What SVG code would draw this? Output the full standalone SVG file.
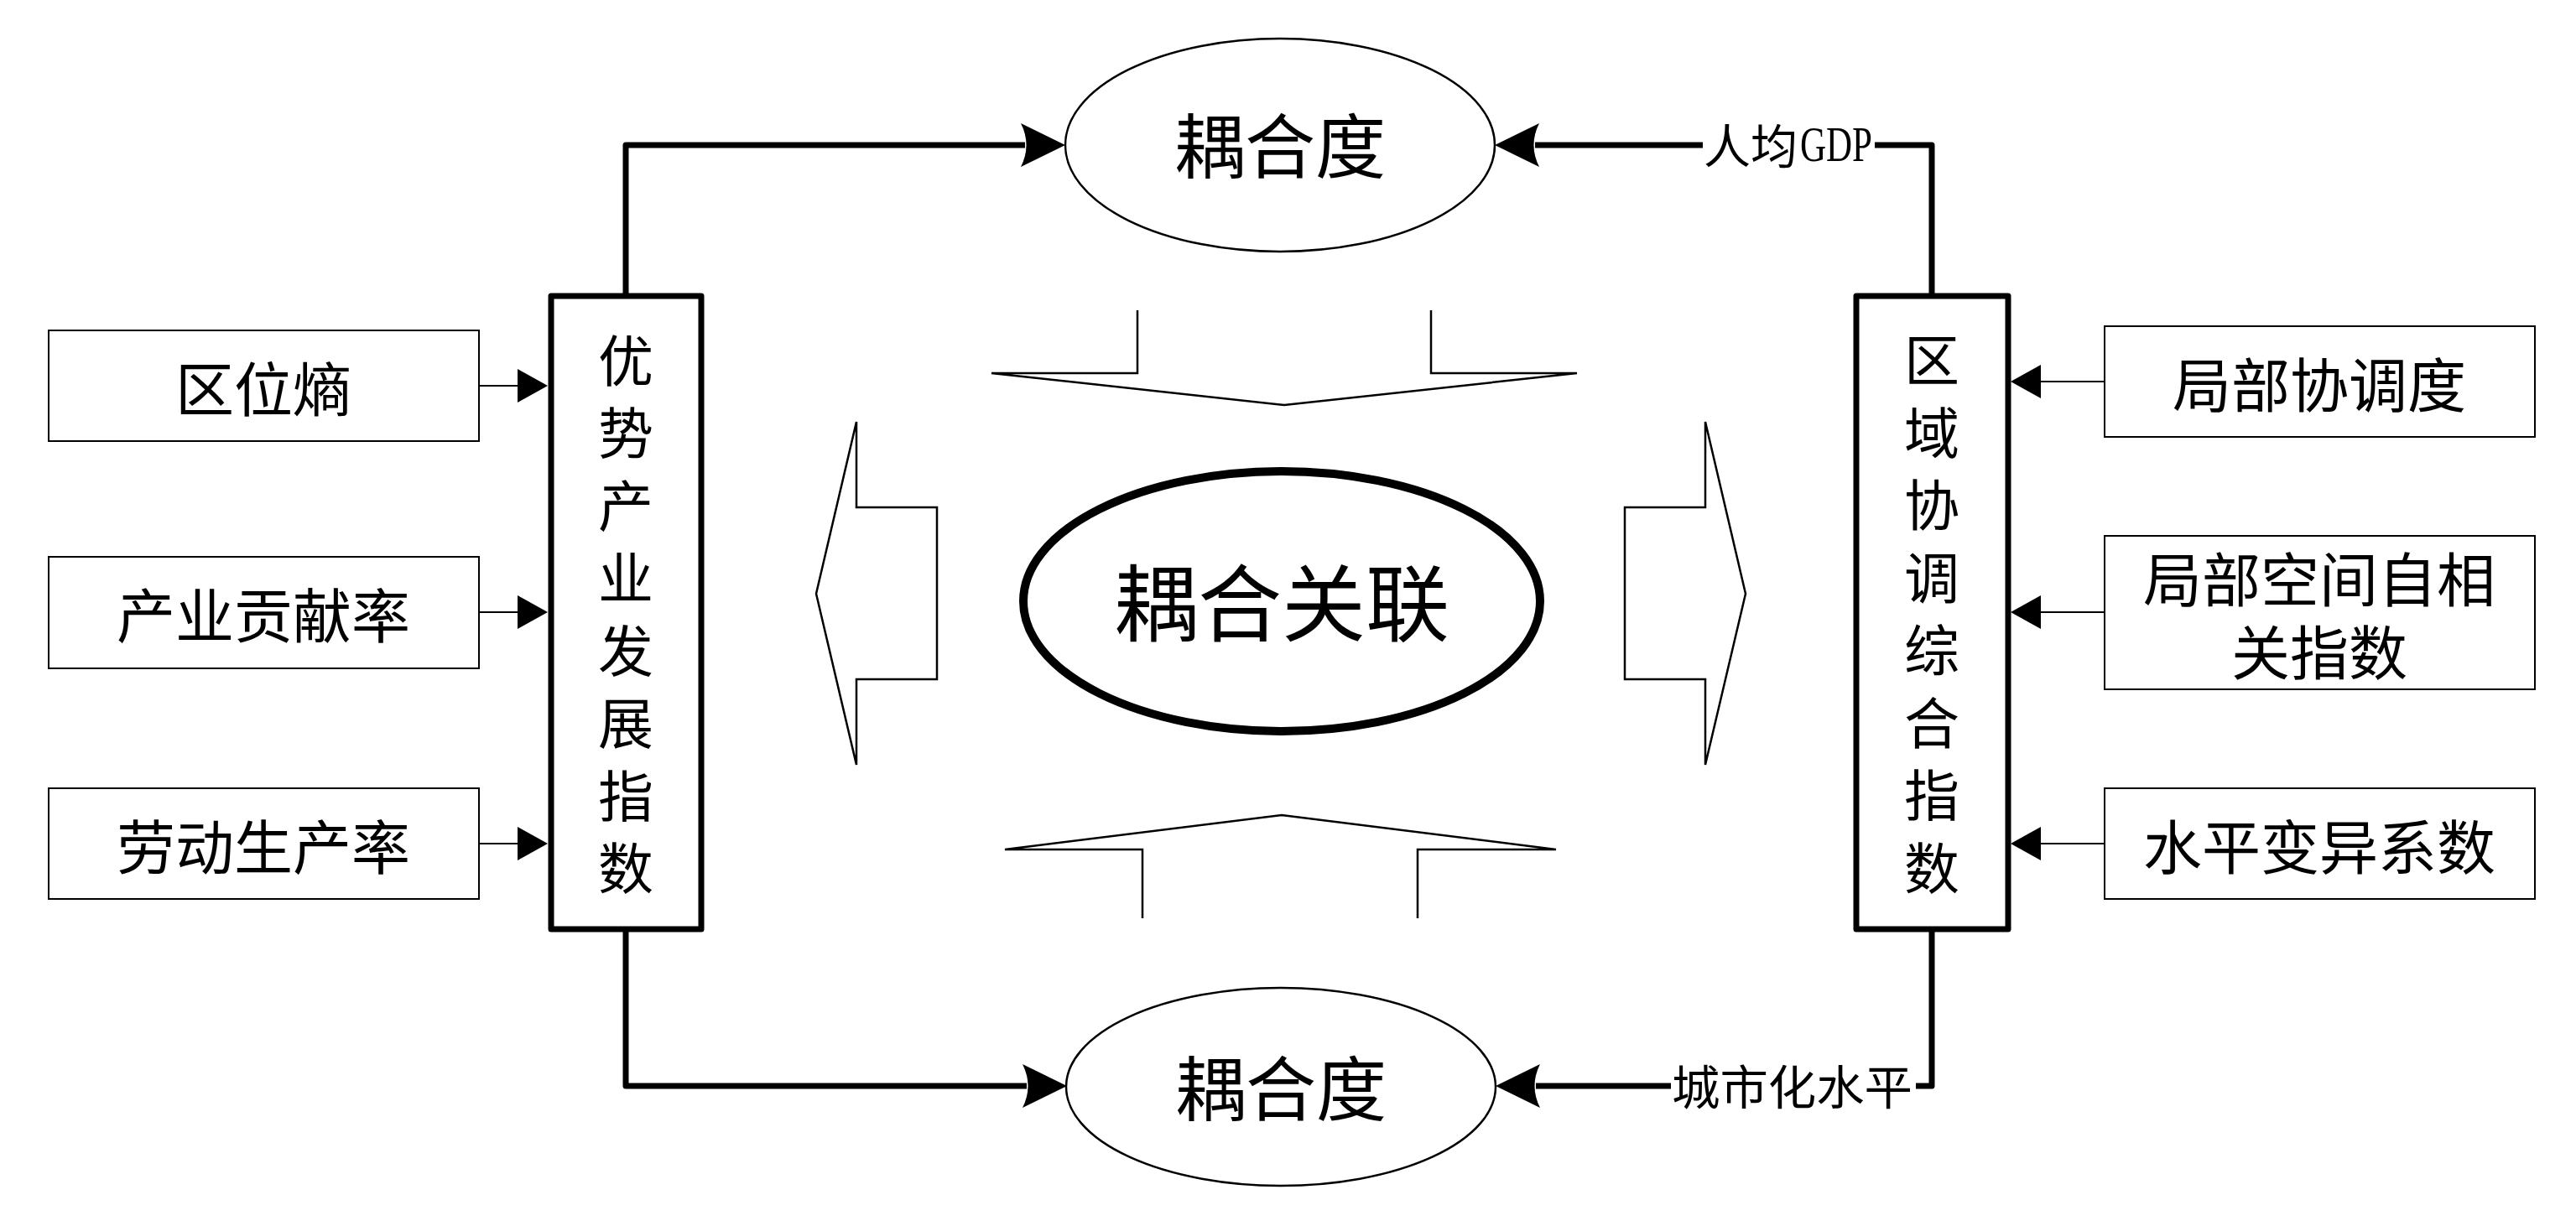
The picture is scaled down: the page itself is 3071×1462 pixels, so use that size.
<svg xmlns="http://www.w3.org/2000/svg" width="3071" height="1462" viewBox="0 0 3071 1462">
<style>
text{font-family:"Noto Sans CJK SC","Noto Sans",sans-serif;fill:#000;dominant-baseline:central;text-anchor:middle}
.box{fill:#fff;stroke:#000;stroke-width:2}
.main{fill:#fff;stroke:#000;stroke-width:7;stroke-linejoin:round}
.ell{fill:#fff;stroke:#000;stroke-width:2.5}
.thick{fill:none;stroke:#000;stroke-width:7;stroke-linejoin:round}
.thin{fill:none;stroke:#000;stroke-width:2}
.blk{fill:#fff;stroke:#000;stroke-width:2.5;stroke-linejoin:miter}
.in{font-size:70px}
.vt{font-size:66px}
.lab{font-size:56px;text-anchor:start}
</style>
<defs>
<marker id="big" markerUnits="userSpaceOnUse" viewBox="0 0 54 54" markerWidth="54" markerHeight="54" refX="6" refY="27" orient="auto">
<path d="M54,27 L1,1 Q14,27 1,53 Z" fill="#000"/>
</marker>
<marker id="small" markerUnits="userSpaceOnUse" viewBox="0 0 36 40" markerWidth="36" markerHeight="40" refX="0" refY="20" orient="auto">
<path d="M0,0 L36,20 L0,40 Z" fill="#000"/>
</marker>
</defs>
<rect width="3071" height="1462" fill="#fff"/>

<g id="connectors">
<path class="thick" d="M746,350 V173 H1222" marker-end="url(#big)"/>
<path class="thick" d="M2303,350 V173 H2235"/>
<path class="thick" d="M2030,173 H1830" marker-end="url(#big)"/>
<path class="thick" d="M746,1111 V1295 H1224" marker-end="url(#big)"/>
<path class="thick" d="M2303,1111 V1295 H2284"/>
<path class="thick" d="M1992,1295 H1831" marker-end="url(#big)"/>
<path class="thin" d="M571,460 H617" marker-end="url(#small)"/>
<path class="thin" d="M571,730 H617" marker-end="url(#small)"/>
<path class="thin" d="M571,1006 H617" marker-end="url(#small)"/>
<path class="thin" d="M2509,455 H2433" marker-end="url(#small)"/>
<path class="thin" d="M2509,730 H2433" marker-end="url(#small)"/>
<path class="thin" d="M2509,1006 H2433" marker-end="url(#small)"/>
<text class="lab" x="2031" y="170">人均</text>
<text x="2146" y="192" style="font-family:'Liberation Serif',serif;font-size:60px;text-anchor:start;dominant-baseline:alphabetic" textLength="86" lengthAdjust="spacingAndGlyphs">GDP</text>
<text class="lab" x="1993" y="1292" textLength="287" lengthAdjust="spacingAndGlyphs">城市化水平</text>
</g>

<g id="block-arrows">
<polyline class="blk" points="1356,370 1356,445 1182,445 1531,483 1880,445 1706,445 1706,370"/>
<polyline class="blk" points="1362,1095 1362,1013 1198,1013 1528,972 1855,1013 1690,1013 1690,1095"/>
<polygon class="blk" points="1117,605 1021,605 1021,503 973,708 1021,912 1021,810 1117,810"/>
<polygon class="blk" points="1937,605 2033,605 2033,503 2081,708 2033,912 2033,810 1937,810"/>
</g>

<g id="node-qwsh">
<rect class="box" x="58" y="394" width="513" height="132"/>
<text class="in" x="314" y="460">区位熵</text>
</g>
<g id="node-cygxl">
<rect class="box" x="58" y="664" width="513" height="133"/>
<text class="in" x="314" y="730">产业贡献率</text>
</g>
<g id="node-ldsc">
<rect class="box" x="58" y="940" width="513" height="132"/>
<text class="in" x="314" y="1006">劳动生产率</text>
</g>

<g id="node-ysfz">
<rect class="main" x="657" y="353" width="179" height="755"/>
<text class="vt"><tspan x="746" y="426">优</tspan><tspan x="746" y="512">势</tspan><tspan x="746" y="599">产</tspan><tspan x="746" y="685">业</tspan><tspan x="746" y="772">发</tspan><tspan x="746" y="858">展</tspan><tspan x="746" y="945">指</tspan><tspan x="746" y="1031">数</tspan></text>
</g>

<g id="node-qyxt">
<rect class="main" x="2213" y="353" width="181" height="755"/>
<text class="vt"><tspan x="2303" y="425">区</tspan><tspan x="2303" y="512">域</tspan><tspan x="2303" y="598">协</tspan><tspan x="2303" y="685">调</tspan><tspan x="2303" y="771">综</tspan><tspan x="2303" y="858">合</tspan><tspan x="2303" y="944">指</tspan><tspan x="2303" y="1031">数</tspan></text>
</g>

<g id="node-jbxtd">
<rect class="box" x="2509" y="389" width="513" height="132"/>
<text class="in" x="2765" y="455">局部协调度</text>
</g>
<g id="node-jbkj">
<rect class="box" x="2509" y="639" width="513" height="183"/>
<text class="in"><tspan x="2765" y="687">局部空间自相</tspan><tspan x="2765" y="774">关指数</tspan></text>
</g>
<g id="node-spby">
<rect class="box" x="2509" y="940" width="513" height="132"/>
<text class="in" x="2765" y="1006">水平变异系数</text>
</g>

<g id="node-ohd-top">
<ellipse class="ell" cx="1526" cy="173" rx="256" ry="127"/>
<text x="1526" y="169" style="font-size:84px">耦合度</text>
</g>
<g id="node-ohd-bottom">
<ellipse class="ell" cx="1527" cy="1296" rx="256" ry="118"/>
<text x="1527" y="1293" style="font-size:84px">耦合度</text>
</g>
<g id="node-center">
<ellipse cx="1528" cy="717" rx="308" ry="155" fill="#fff" stroke="#000" stroke-width="10"/>
<text x="1528" y="713" style="font-size:100px">耦合关联</text>
</g>
</svg>
